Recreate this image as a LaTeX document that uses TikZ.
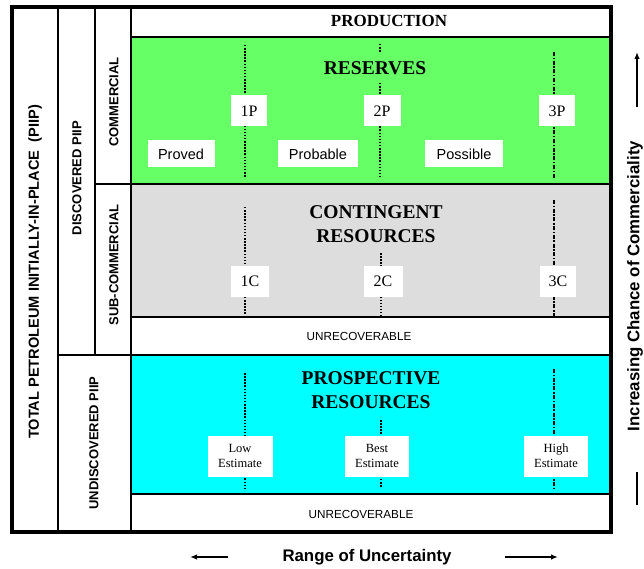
\documentclass[tikz,border=0pt]{standalone}
\usepackage{fontspec}
\usetikzlibrary{arrows.meta}
\setmainfont{Liberation Serif}
\setsansfont{Liberation Sans}
\definecolor{reservegreen}{RGB}{102,255,102}
\definecolor{contgrey}{RGB}{221,221,221}
\definecolor{prospcyan}{RGB}{0,255,255}
\tikzset{
  cellline/.style={line width=1.7pt},
  lowline/.style={line width=1.5pt, dash pattern=on 1.5pt off 1.6pt},
  bestline/.style={line width=1.5pt, dash pattern=on 1.5pt off 1.6pt},
  highline/.style={line width=1.6pt, dash pattern=on 4pt off 1.6pt on 1.5pt off 1.6pt},
  tag/.style={fill=white, inner sep=0pt, font=\fontsize{16}{18}\selectfont},
  kind/.style={fill=white, inner sep=0pt, minimum height=27pt, font=\sffamily\fontsize{14.5}{16}\selectfont},
  estimate/.style={fill=white, inner sep=0pt, minimum width=65pt, minimum height=41pt, align=center, font=\fontsize{12.5}{15}\selectfont},
  classname/.style={align=center, font=\bfseries\fontsize{19.5}{24}\selectfont},
  sidelabel/.style={rotate=90, font=\sffamily\bfseries\fontsize{13}{15}\selectfont},
  axislabel/.style={font=\sffamily\bfseries\fontsize{16.8}{19}\selectfont},
  unrec/.style={font=\sffamily\fontsize{11.7}{13}\selectfont},
  axisarrow/.style={-{Latex[length=7pt,width=5.5pt]}, line width=1.7pt}
}
\begin{document}
\begin{tikzpicture}[x=1pt,y=-1pt]
\useasboundingbox (0,0) rectangle (644,569);
% coloured classes
\fill[reservegreen] (131,37) rectangle (611,184);
\fill[contgrey] (131,184) rectangle (611,317);
\fill[prospcyan] (131,355) rectangle (611,494);
% range lines
\draw[lowline] (245,45) -- (245,178);
\draw[bestline] (380,44) -- (380,52);
\draw[bestline] (380,83) -- (380,178);
\draw[highline] (554,52) -- (554,178);
\draw[lowline] (245,207) -- (245,316);
\draw[bestline] (381,253) -- (381,316);
\draw[highline] (554,200) -- (554,316);
\draw[lowline] (245,373) -- (245,488);
\draw[bestline] (381,420) -- (381,488);
\draw[highline] (554,369) -- (554,488);
% grid of the classification
\draw[cellline] (58,7) -- (58,532);
\draw[cellline] (95,7) -- (95,355);
\draw[cellline] (131,7) -- (131,532);
\draw[cellline] (131,37) -- (611,37);
\draw[cellline] (95,184) -- (611,184);
\draw[cellline] (131,317) -- (611,317);
\draw[cellline] (58,355) -- (611,355);
\draw[cellline] (131,494) -- (611,494);
\draw[line width=3.5pt] (12,7) rectangle (611,532);
% side labels
\node[sidelabel, font=\sffamily\bfseries\fontsize{14.6}{16}\selectfont] (totalpiip) at (35,272) {TOTAL PETROLEUM INITIALLY-IN-PLACE\ \ (PIIP)};
\node[sidelabel] (discpiip) at (77,178) {DISCOVERED PIIP};
\node[sidelabel] (undiscpiip) at (94,443) {UNDISCOVERED PIIP};
\node[sidelabel] (commercial) at (114,102) {COMMERCIAL};
\node[sidelabel] (subcommercial) at (114,265) {SUB-COMMERCIAL};
% class names
\node[classname, font=\bfseries\fontsize{17}{20}\selectfont] (production) at (389,21) {PRODUCTION};
\node[classname] (reserves) at (375,68) {RESERVES};
\node[classname] (contingent) at (376,224) {CONTINGENT\\RESOURCES};
\node[classname] (prospective) at (371,390) {PROSPECTIVE\\RESOURCES};
\node[unrec] (unrecA) at (359,336) {UNRECOVERABLE};
\node[unrec] (unrecB) at (361,514) {UNRECOVERABLE};
% reserves
\node[tag, minimum width=36pt, minimum height=31pt] (p1) at (249,111) {1P};
\node[tag, minimum width=37pt, minimum height=31pt] (p2) at (382,111) {2P};
\node[tag, minimum width=36pt, minimum height=31pt] (p3) at (557,111) {3P};
\node[kind, minimum width=67pt] (proved) at (181,154) {Proved};
\node[kind, minimum width=80pt] (probable) at (318,154) {Probable};
\node[kind, minimum width=78pt] (possible) at (464,154) {Possible};
% contingent resources
\node[tag, minimum width=38pt, minimum height=31pt] (c1) at (250,281) {1C};
\node[tag, minimum width=39pt, minimum height=31pt] (c2) at (383,281) {2C};
\node[tag, minimum width=36pt, minimum height=31pt] (c3) at (558,281) {3C};
% prospective resources
\node[estimate] (lowest) at (240,456) {Low\\Estimate};
\node[estimate, minimum width=64pt] (bestest) at (377,456) {Best\\Estimate};
\node[estimate, minimum width=64pt] (highest) at (556,456) {High\\Estimate};
% axes
\node[axislabel] (uncertainty) at (367,557) {Range of Uncertainty};
\coordinate (leftstart) at (228,557);
\coordinate (leftend) at (190,557);
\coordinate (rightstart) at (505,557);
\coordinate (rightend) at (558,557);
\draw[axisarrow] (leftstart) -- (leftend);
\draw[axisarrow] (rightstart) -- (rightend);
\node[axislabel, rotate=90] (commerciality) at (635,286) {Increasing Chance of Commerciality};
\coordinate (upstart) at (637,107);
\coordinate (upend) at (637,52);
\coordinate (downstart) at (637,505);
\coordinate (downend) at (637,472);
\draw[axisarrow] (upstart) -- (upend);
\draw[line width=1.7pt] (downstart) -- (downend);
\end{tikzpicture}
\end{document}
